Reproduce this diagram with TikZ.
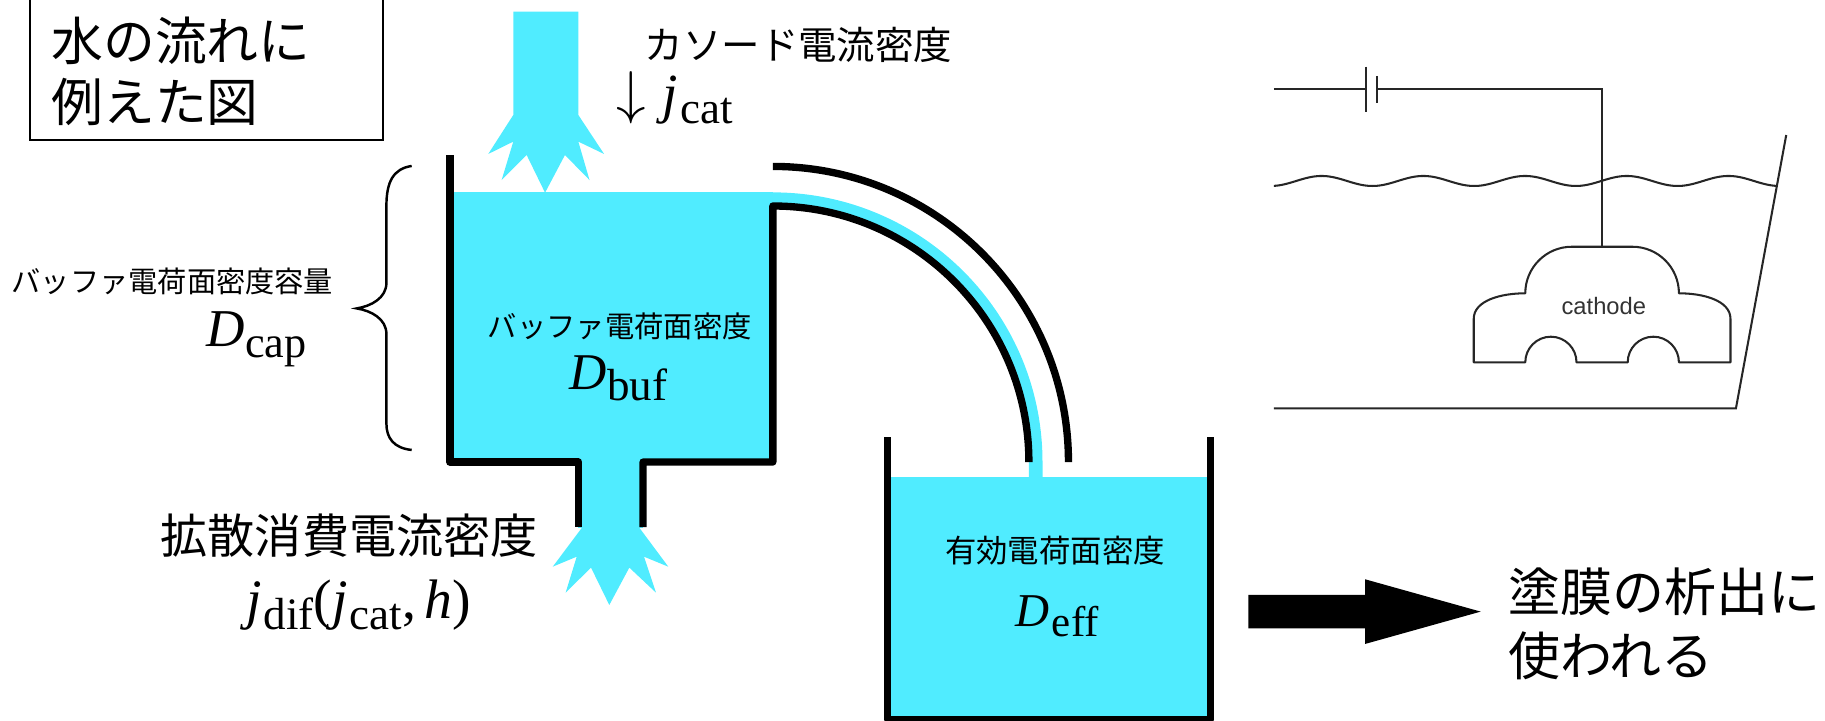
\documentclass[tikz,border=0pt]{standalone}
\usepackage{fontspec}
\newfontfamily\jp{Noto Sans CJK JP}
\newfontfamily\lab{Liberation Sans}
\newfontfamily\serif{Liberation Serif}
\definecolor{water}{RGB}{80,236,255}
% italic symbol with an upright, lowered index
\newcommand\sym[1]{{\serif\itshape #1}}
\newcommand\idx[2]{\raisebox{-0.2em}{\serif\fontsize{#1}{#1}\selectfont #2}}
\begin{document}
\begin{tikzpicture}[x=0.01cm,y=-0.01cm,
  wall/.style={line width=0.063cm,line join=round,line cap=butt},
  thinline/.style={line width=0.5pt,black!85},
  txt/.style={inner sep=0pt,outer sep=0pt},
  jp/.style={txt,font=\jp\fontsize{#1}{#1}\selectfont},
  mathlab/.style={txt,anchor=base,font=\serif\fontsize{#1}{#1}\selectfont}]
\useasboundingbox (0,0) rectangle (1568,619);

% ---- title box ----
\draw[line width=0.55pt] (25.5,-5) rectangle (329,120.3);
\node[txt,anchor=west,align=left,font=\jp\fontsize{12.66pt}{14.85pt}\selectfont] (title) at (44.2,61.6) {水の流れに\\例えた図};

% ---- water bodies ----
% inflow jet from above
\fill[water] (441.0,10) -- (441.0,98.8) -- (419.5,132.3) -- (441.0,121.7) -- (431.0,154.7)
  -- (452.5,133.2) -- (468.3,165.6) -- (485.4,133.2) -- (506.5,154.7) -- (496.9,121.7)
  -- (519.0,132.3) -- (496.9,98.8) -- (496.9,10) -- cycle;
% buffer tank and its outlet
\fill[water] (386.6,165.3) rectangle (664,397);
\fill[water] (497,390) rectangle (552.5,454);
\fill[water] (500.3,453) -- (474.9,486.9) -- (495.5,478.3) -- (486.0,509.2) -- (507.8,487.7)
  -- (523.5,519.8) -- (540.7,487.7) -- (563.6,509.2) -- (553.3,478.3) -- (574.2,486.9)
  -- (549,453) -- cycle;
% overflow through the bent pipe
\fill[water] (664,165.3) arc[start angle=-90,end angle=0,radius=231.7] -- (895.7,412) -- (884,412)
  -- (884,397) arc[start angle=0,end angle=-90,radius=220] -- cycle;
% effective tank
\fill[water] (762.7,409.5) rectangle (1040.3,618);

% ---- walls ----
\draw[wall] (386.6,133.2) -- (386.6,397) -- (497,397) -- (497,453);
\draw[wall] (552.5,453) -- (552.5,397) -- (664,397) -- (664,177)
  arc[start angle=-90,end angle=0,radius=220];
\draw[wall] (664,143) arc[start angle=-90,end angle=0,radius=254];
\draw[wall] (762.7,375.7) -- (762.7,618) -- (1040.3,618) -- (1040.3,375.7);

% ---- brace for the buffer capacity ----
\draw[line width=0.6pt] (353.7,142.6) .. controls (338,145) and (332,156) .. (332,177)
  -- (332,243) .. controls (332,256) and (319,263) .. (306.5,265)
  .. controls (319,267) and (332,274) .. (332,287)
  -- (332,364) .. controls (332,376) and (338,385) .. (353.7,386.6);

% ---- labels ----
\node[jp=9.39pt] (catlabel) at (686,38.7) {カソード電流密度};
\node[txt,anchor=base west,font=\serif\fontsize{13.5pt}{13.5pt}\selectfont] (jcat) at (530,96.9)
  {$\downarrow$\kern4pt\sym{j}\kern0.5pt\idx{11pt}{cat}};
\node[jp=7.14pt] (caplabel) at (148.2,242) {バッファ電荷面密度容量};
\node[mathlab=13pt] (dcap) at (220.5,297.9) {\sym{D}\idx{10.8pt}{cap}};
\node[jp=7.17pt] (buflabel) at (532.5,280.7) {バッファ電荷面密度};
\node[mathlab=12.6pt] (dbuf) at (531.5,335) {\sym{D}\idx{11pt}{buf}};
\node[jp=7.68pt] (efflabel) at (906.5,473) {有効電荷面密度};
\node[mathlab=11.5pt] (deff) at (908.5,538.4) {\sym{D}\kern0.5pt\idx{10.5pt}{eff}};
\node[jp=11.52pt] (diflabel) at (300,460.4) {拡散消費電流密度};
\node[mathlab=13.6pt] (jdif) at (308,531.4)
  {\sym{j}\kern0.5pt\idx{11pt}{dif}(\sym{j}\kern0.5pt\idx{11pt}{cat},\kern2pt\sym{h})};

% ---- output arrow ----
\fill (1072.5,511.2) -- (1172.8,511.2) -- (1172.8,497.7) -- (1272.2,525.5) -- (1172.8,553.3)
  -- (1172.8,539.8) -- (1072.5,539.8) -- cycle;
\node[txt,anchor=west,align=left,font=\jp\fontsize{12.7pt}{15.5pt}\selectfont] (uselabel) at (1296,536) {塗膜の析出に\\使われる};

% ---- electroplating cell ----
\draw[thinline] (1094.5,76.7) -- (1173.6,76.7);
\draw[thinline] (1173.6,57.3) -- (1173.6,96);
\draw[thinline] (1182.8,65.3) -- (1182.8,88.2);
\draw[thinline] (1182.8,76.7) -- (1376.5,76.7) -- (1376.5,212.5);
\draw[thinline] plot[domain=1094.5:1527.2,samples=220] (\x,{155.5-4.3*cos(4.119*(\x-1135.5))});
\draw[thinline] (1534.7,116) -- (1491.5,350.8) -- (1094.5,350.8);
\draw[thinline,line join=round] (1310.5,252) arc[start angle=180,end angle=270,radius=40]
  -- (1402.5,212) arc[start angle=270,end angle=360,radius=40]
  .. controls (1463,252) and (1486.8,258) .. (1486.8,274) -- (1486.8,311.3) -- (1442.5,311.3)
  arc[start angle=0,end angle=-180,radius=22] -- (1354.5,311.3)
  arc[start angle=0,end angle=-180,radius=22] -- (1266.2,311.3) -- (1266.2,274)
  .. controls (1266.2,258) and (1290,252) .. (1310.5,252) -- cycle;
\node[txt,font=\lab\fontsize{5.8pt}{6pt}\selectfont,text=black!80] (cathodelabel) at (1378,263) {cathode};
\end{tikzpicture}
\end{document}
